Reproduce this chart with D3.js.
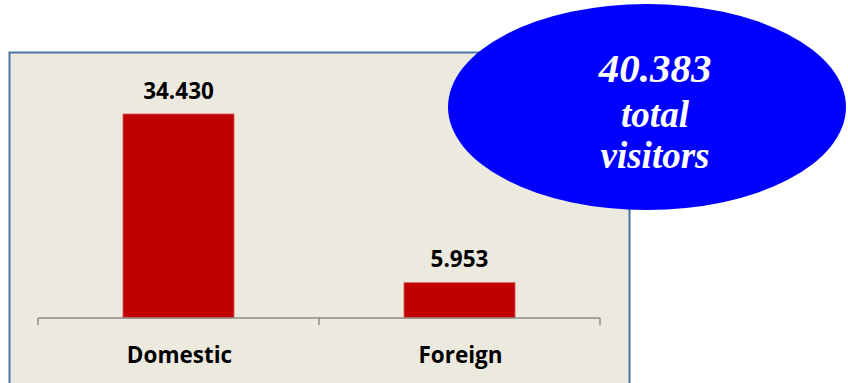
<!DOCTYPE html>
<html>
<head>
<meta charset="utf-8">
<script src="https://cdn.jsdelivr.net/npm/d3@7"></script>
<style>
  body { margin: 0; background: #fff; }
  .bubble text { font-family: "Liberation Serif", "DejaVu Serif", "Noto Serif", Times, serif; }
</style>
</head>
<body>
<div class="chart"></div>
<script>
// donnees
var categories = ["Domestic", "Foreign"];
var visitors = [34430, 5953];
var valueLabels = ["34.430", "5.953"];
var totalLines = ["40.383", "total", "visitors"];

var W = 848, H = 383;

var svg = d3.select(".chart")
    .append("svg")
    .attr("width", W)
    .attr("height", H);

// panneau de fond
svg.append("rect")
    .attr("x", 9.5)
    .attr("y", 52.5)
    .attr("width", 620)
    .attr("height", 360)
    .style("fill", "#ECE9DF")
    .style("stroke", "#4A74A6")
    .style("stroke-width", 2);

// echelles
var xScale = d3.scaleBand()
    .domain(categories)
    .range([38, 600])
    .padding(0.605)
    .paddingOuter(0.3025);

var yScale = d3.scaleLinear()
    .domain([0, 40000])
    .range([318, 81]);

var gap = (xScale.step() - xScale.bandwidth()) / 2;

// barres
svg.append("g")
    .selectAll("rect")
    .data(visitors)
    .enter().append("rect")
    .attr("x", function (d, i) { return xScale(categories[i]); })
    .attr("y", function (d) { return yScale(d); })
    .attr("width", xScale.bandwidth())
    .attr("height", function (d) { return yScale(0) - yScale(d); })
    .style("fill", "#C00000")
    .style("stroke", "#D95050")
    .style("stroke-width", 0.8);

// axe X
var axis = svg.append("g").style("stroke", "#8C8C8C").style("stroke-width", 1.5);
axis.append("line")
    .attr("x1", xScale.range()[0]).attr("x2", xScale.range()[1])
    .attr("y1", yScale(0)).attr("y2", yScale(0));

var tickPos = categories.map(function (c) { return xScale(c) - gap; });
tickPos.push(xScale(categories[categories.length - 1]) + xScale.bandwidth() + gap);
axis.selectAll("line.tick")
    .data(tickPos)
    .enter().append("line")
    .attr("class", "tick")
    .attr("x1", function (d) { return d; }).attr("x2", function (d) { return d; })
    .attr("y1", yScale(0)).attr("y2", yScale(0) + 7);

var labelFont = "'Open Sans', 'Noto Sans', sans-serif";

// etiquettes de valeurs
svg.append("g")
    .selectAll("text")
    .data(visitors)
    .enter().append("text")
    .attr("x", function (d, i) { return xScale(categories[i]) + xScale.bandwidth() / 2; })
    .attr("y", function (d) { return yScale(d) - 15.5; })
    .attr("text-anchor", "middle")
    .style("font-family", labelFont)
    .style("font-weight", "bold")
    .style("font-size", "22.5px")
    .style("fill", "#000")
    .text(function (d, i) { return valueLabels[i]; });

// etiquettes de categories
svg.append("g")
    .selectAll("text")
    .data(categories)
    .enter().append("text")
    .attr("x", function (d) { return xScale(d) + xScale.bandwidth() / 2 + 1; })
    .attr("y", 363)
    .attr("text-anchor", "middle")
    .style("font-family", labelFont)
    .style("font-weight", "bold")
    .style("font-size", "22.5px")
    .style("fill", "#000")
    .text(function (d) { return d; });

// bulle du total
var bubble = svg.append("g").attr("class", "bubble");
bubble.append("ellipse")
    .attr("cx", 647)
    .attr("cy", 107)
    .attr("rx", 199)
    .attr("ry", 103)
    .style("fill", "#0000FF");

var lineY = [82, 127, 168];
var lineSize = [41, 37, 37];
bubble.selectAll("text")
    .data(totalLines)
    .enter().append("text")
    .attr("x", 655)
    .attr("y", function (d, i) { return lineY[i]; })
    .attr("text-anchor", "middle")
    .attr("font-weight", "bold")
    .attr("font-style", "italic")
    .attr("font-size", function (d, i) { return lineSize[i]; })
    .attr("fill", "#fff")
    .text(function (d) { return d; });
</script>
</body>
</html>
